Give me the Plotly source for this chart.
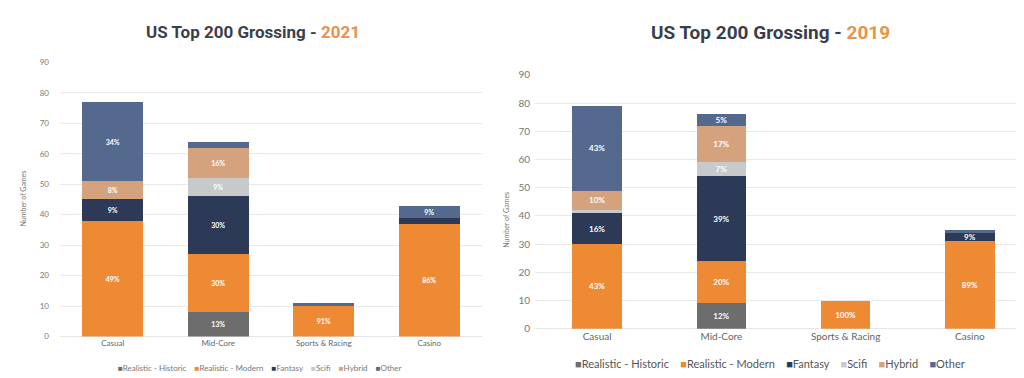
import plotly.graph_objects as go

categories = ["Casual", "Mid-Core", "Sports & Racing", "Casino"]
series_names = ["Realistic - Historic", "Realistic - Modern", "Fantasy", "Scifi", "Hybrid", "Other"]
series_colors = ["#6d6d6d", "#EE8A33", "#2C3A58", "#C8C9CB", "#D4A27D", "#55698F"]

# 2021 counts (per series, per category)
v2021_historic = [0, 8, 0, 0]
v2021_modern = [38, 19, 10, 37]
v2021_fantasy = [7, 19, 0, 2]
v2021_scifi = [0, 6, 0, 0]
v2021_hybrid = [6, 10, 0, 0]
v2021_other = [26, 2, 1, 4]
# 2021 labels
l2021_historic = ["", "13%", "", ""]
l2021_modern = ["49%", "30%", "91%", "86%"]
l2021_fantasy = ["9%", "30%", "", ""]
l2021_scifi = ["", "9%", "", ""]
l2021_hybrid = ["8%", "16%", "", ""]
l2021_other = ["34%", "", "", "9%"]

# 2019 counts
v2019_historic = [0, 9, 0, 0]
v2019_modern = [30, 15, 10, 31]
v2019_fantasy = [11, 30, 0, 3]
v2019_scifi = [1, 5, 0, 0]
v2019_hybrid = [7, 13, 0, 0]
v2019_other = [30, 4, 0, 1]
# 2019 labels
l2019_historic = ["", "12%", "", ""]
l2019_modern = ["43%", "20%", "100%", "89%"]
l2019_fantasy = ["16%", "39%", "", "9%"]
l2019_scifi = ["", "7%", "", ""]
l2019_hybrid = ["10%", "17%", "", ""]
l2019_other = ["43%", "5%", "", ""]

y_ticks = [0, 10, 20, 30, 40, 50, 60, 70, 80, 90]

vals2021 = [v2021_historic, v2021_modern, v2021_fantasy, v2021_scifi, v2021_hybrid, v2021_other]
labs2021 = [l2021_historic, l2021_modern, l2021_fantasy, l2021_scifi, l2021_hybrid, l2021_other]
vals2019 = [v2019_historic, v2019_modern, v2019_fantasy, v2019_scifi, v2019_hybrid, v2019_other]
labs2019 = [l2019_historic, l2019_modern, l2019_fantasy, l2019_scifi, l2019_hybrid, l2019_other]

FONT = "Lato"
TITLE_FONT = "Roboto"
W, H = 1024, 378

fig = go.Figure()

for name, color, vals, labs in zip(series_names, series_colors, vals2021, labs2021):
    fig.add_trace(go.Bar(
        x=categories, y=vals, name=name, marker=dict(color=color, line=dict(width=0)),
        text=labs, textposition="inside", insidetextanchor="middle", textangle=0,
        constraintext="none",
        textfont=dict(family=FONT, size=7, color="white", weight="bold"),
        width=0.58, xaxis="x", yaxis="y", showlegend=False, cliponaxis=False,
    ))

for name, color, vals, labs in zip(series_names, series_colors, vals2019, labs2019):
    fig.add_trace(go.Bar(
        x=categories, y=vals, name=name, marker=dict(color=color, line=dict(width=0)),
        text=labs, textposition="inside", insidetextanchor="middle", textangle=0,
        constraintext="none",
        textfont=dict(family=FONT, size=8, color="white", weight="bold"),
        width=0.40, xaxis="x2", yaxis="y2", showlegend=False, cliponaxis=False,
    ))

# pixel-based domains
def xd(a, b):
    return [a / W, b / W]

def yd(bottom_px, top_px):
    return [(H - bottom_px) / H, (H - top_px) / H]

axis_common = dict(showline=False, ticks="")

fig.update_layout(
    width=W, height=H,
    margin=dict(l=0, r=0, t=0, b=0),
    paper_bgcolor="white", plot_bgcolor="white",
    barmode="stack",
    xaxis=dict(domain=xd(52, 474), type="category", showgrid=False,
               tickfont=dict(family=FONT, size=8, color="#666666"), **axis_common),
    yaxis=dict(domain=yd(333, 49), range=[0, 90], tickvals=y_ticks,
               showgrid=True, gridcolor="#e9e9e9", gridwidth=1,
               tickfont=dict(family=FONT, size=8, color="#777777"), ticklabelstandoff=10,
               **axis_common),
    xaxis2=dict(domain=xd(527, 1024), type="category", showgrid=False, anchor="y2",
                tickfont=dict(family=FONT, size=10, color="#666666"), **axis_common),
    yaxis2=dict(domain=yd(325, 62), range=[0, 90], tickvals=y_ticks, anchor="x2",
                showgrid=True, gridcolor="#e9e9e9", gridwidth=1,
                tickfont=dict(family=FONT, size=10, color="#777777"), ticklabelstandoff=4,
                **axis_common),
    font=dict(family=FONT),
)

fig.update_yaxes(zeroline=True, zerolinecolor="#e6e6e6", zerolinewidth=1)

# Titles
fig.add_annotation(
    text="<b>US Top 200 Grossing - <span style='color:#E8924A'>2021</span></b>",
    x=245 / W, y=1 - 18 / H, xref="paper", yref="paper", showarrow=False,
    xanchor="center", yanchor="middle",
    font=dict(family=TITLE_FONT, size=17, color="#3B3F4A"),
)
fig.add_annotation(
    text="<b>US Top 200 Grossing - <span style='color:#E8924A'>2019</span></b>",
    x=762 / W, y=1 - 18 / H, xref="paper", yref="paper", showarrow=False,
    xanchor="center", yanchor="middle",
    font=dict(family=TITLE_FONT, size=19, color="#3B3F4A"),
)

# Y-axis titles
fig.add_annotation(text="Number of Games", x=15 / W, y=1 - 190 / H, xref="paper", yref="paper",
                   showarrow=False, textangle=-90, xanchor="center", yanchor="middle",
                   font=dict(family=FONT, size=7, color="#777777"))
fig.add_annotation(text="Number of Games", x=498 / W, y=1 - 212 / H, xref="paper", yref="paper",
                   showarrow=False, textangle=-90, xanchor="center", yanchor="middle",
                   font=dict(family=FONT, size=7, color="#777777"))

# Legends built from series names/colors
def legend_html(sep):
    parts = []
    for name, color in zip(series_names, series_colors):
        parts.append(f"<span style='color:{color}'>■</span>{name}")
    return sep.join(parts)

fig.add_annotation(text=legend_html("&nbsp;&nbsp;&nbsp;&nbsp;"), x=252 / W, y=1 - 366 / H,
                   xref="paper", yref="paper", showarrow=False, xanchor="center", yanchor="middle",
                   font=dict(family=FONT, size=8, color="#777777"))
fig.add_annotation(text=legend_html("&nbsp;&nbsp;&nbsp;&nbsp;"), x=762 / W, y=1 - 361 / H,
                   xref="paper", yref="paper", showarrow=False, xanchor="center", yanchor="middle",
                   font=dict(family=FONT, size=11, color="#555555"))

fig.write_html("out.html")
